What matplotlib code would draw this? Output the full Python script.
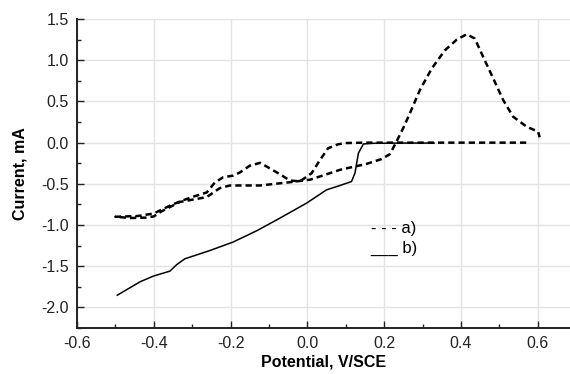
import numpy as np
import matplotlib
matplotlib.use('Agg')
import matplotlib.pyplot as plt
from matplotlib.ticker import MultipleLocator

plt.rcParams['font.family'] = ['Liberation Sans', 'DejaVu Sans']

# curve a) - cyclic sweep, dashed
pot_a = [0.57, 0.30, 0.15, 0.10, 0.08, 0.054, 0.033, 0.011, -0.019, -0.045,
         -0.08, -0.123, -0.15, -0.176, -0.193, -0.219, -0.241, -0.262, -0.30,
         -0.332, -0.36, -0.40, -0.44, -0.50,
         -0.46, -0.42, -0.40, -0.38, -0.332, -0.262, -0.228, -0.202, -0.16,
         -0.123, -0.045, 0.007, 0.085, 0.154, 0.193, 0.215, 0.232, 0.25,
         0.267, 0.293, 0.324, 0.358, 0.389, 0.415, 0.436, 0.458, 0.484,
         0.51, 0.536, 0.571, 0.601, 0.605]
cur_a = [0.0, 0.0, 0.0, -0.005, -0.02, -0.068, -0.21, -0.371, -0.47, -0.46,
         -0.36, -0.245, -0.28, -0.363, -0.40, -0.42, -0.484, -0.605, -0.66,
         -0.714, -0.77, -0.86, -0.89, -0.90,
         -0.915, -0.91, -0.896, -0.835, -0.72, -0.661, -0.552, -0.52, -0.52,
         -0.52, -0.48, -0.45, -0.33, -0.258, -0.20, -0.14, 0.012, 0.18,
         0.356, 0.638, 0.90, 1.12, 1.25, 1.316, 1.264, 1.04, 0.78,
         0.517, 0.315, 0.194, 0.133, 0.065]

# curve b) - linear sweep, solid
pot_b = [-0.495, -0.436, -0.401, -0.358, -0.34, -0.319, -0.254, -0.193,
         -0.132, -0.076, -0.002, 0.05, 0.085, 0.115, 0.124, 0.133, 0.146,
         0.172, 0.25, 0.33]
cur_b = [-1.852, -1.69, -1.62, -1.56, -1.48, -1.41, -1.31, -1.206,
         -1.07, -0.928, -0.734, -0.573, -0.52, -0.472, -0.37, -0.128, -0.016,
         -0.008, -0.005, -0.005]

fig = plt.figure(figsize=(5.7, 3.74), dpi=100)
ax = fig.add_axes([0.135, 0.123, 0.865, 0.826])

ax.plot(pot_a, cur_a, color='black', lw=1.8, ls=(0, (2.5, 1.6)))
ax.plot(pot_b, cur_b, color='black', lw=1.1)

ax.set_xlim(-0.6, 0.684)
ax.set_ylim(-2.25, 1.5)
ax.xaxis.set_major_locator(MultipleLocator(0.2))
ax.xaxis.set_minor_locator(MultipleLocator(0.1))
ax.yaxis.set_major_locator(MultipleLocator(0.5))
ax.yaxis.set_minor_locator(MultipleLocator(0.25))
ax.grid(True, which='major', color='#e3e3e3', lw=1)
ax.set_axisbelow(True)

for s in ['top', 'right']:
    ax.spines[s].set_visible(False)
for s in ['left', 'bottom']:
    ax.spines[s].set_linewidth(1.4)
    ax.spines[s].set_color('#222222')

ax.tick_params(which='both', direction='in', labelsize=11.5, colors='#222222')
ax.tick_params(which='major', length=5, width=1, pad=6)
ax.tick_params(which='minor', length=3, width=1)
ax.set_xticks(np.arange(-0.6, 0.61, 0.2))
ax.set_xticklabels(['-0.6', '-0.4', '-0.2', '0.0', '0.2', '0.4', '0.6'])
ax.set_yticks(np.arange(-2.0, 1.51, 0.5))
ax.set_yticklabels(['-2.0', '-1.5', '-1.0', '-0.5', '0.0', '0.5', '1.0', '1.5'])

ax.set_xlabel('Potential, V/SCE', fontsize=11.5, fontweight='bold', labelpad=2)
ax.set_ylabel('Current, mA', fontsize=11.5, fontweight='bold', labelpad=10)

ax.text(0.165, -1.04, '- - - a)', fontsize=12, va='center', ha='left')
ax.text(0.165, -1.29, '___ b)', fontsize=12, va='center', ha='left')

fig.savefig('out.png', dpi=100)
